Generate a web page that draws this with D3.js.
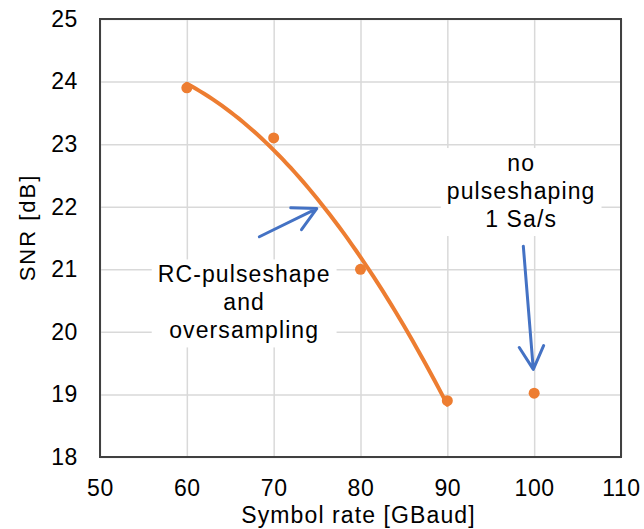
<!DOCTYPE html>
<html>
<head>
<meta charset="utf-8">
<script src="https://cdn.jsdelivr.net/npm/d3@7"></script>
<style>
  body { margin: 0; background: #fff; }
  svg text { font-family: Arial, "Liberation Sans", sans-serif; fill: #000; }
</style>
</head>
<body>
<div class="container"></div>
<script>
// RC-pulseshape + oversampling measurements
const rcRate = [60, 70, 80, 90]
const rcSnr = [23.9, 23.1, 21.0, 18.9]
// no pulseshaping, 1 Sa/s
const plainRate = [100]
const plainSnr = [19.02]

const xTicks = [50, 60, 70, 80, 90, 100, 110]
const yTicks = [18, 19, 20, 21, 22, 23, 24, 25]

// annotation text (data units) and arrows
const noteLines = [["RC-pulseshape", "and", "oversampling"], ["no", "pulseshaping", "1 Sa/s"]]
const noteAt = [[66.6, 20.79], [98.5, 22.57]]
const arrowFrom = [[68.35, 21.52], [98.75, 21.37]]
const arrowTo = [[74.96, 21.97], [99.9, 19.40]]

const size = {WIDTH: 644, HEIGHT: 529}
const margin = {left: 100, right: 23, top: 19, bottom: 72}
const orange = "#ED7D31"
const blue = "#4472C4"

const x = d3.scaleLinear().domain([50, 110]).range([margin.left, size.WIDTH - margin.right])
const y = d3.scaleLinear().domain([18, 25]).range([size.HEIGHT - margin.bottom, margin.top])

const svg = d3.select(".container")
              .append("svg")
              .attr("width", size.WIDTH)
              .attr("height", size.HEIGHT)

svg.append("rect")
   .attr("width", size.WIDTH)
   .attr("height", size.HEIGHT)
   .attr("fill", "white")

const bottom = size.HEIGHT - margin.bottom
const plotW = size.WIDTH - margin.right - margin.left
const plotH = bottom - margin.top

// gridlines
const gridX = svg.append("g")
   .attr("transform", `translate(0 ${bottom})`)
   .call(d3.axisBottom(x).tickValues(xTicks).tickSize(-plotH).tickFormat(""))
const gridY = svg.append("g")
   .attr("transform", `translate(${margin.left} 0)`)
   .call(d3.axisLeft(y).tickValues(yTicks).tickSize(-plotW).tickFormat(""))
for (const g of [gridX, gridY]) {
    g.select(".domain").remove()
    g.selectAll("line").attr("stroke", "#d9d9d9").attr("stroke-width", 1.5)
}

// tick labels
const axX = svg.append("g")
   .attr("transform", `translate(0 ${bottom})`)
   .call(d3.axisBottom(x).tickValues(xTicks).tickSize(0).tickPadding(23).tickFormat(d3.format("d")))
const axY = svg.append("g")
   .attr("transform", `translate(${margin.left} 0)`)
   .call(d3.axisLeft(y).tickValues(yTicks).tickSize(0).tickPadding(22).tickFormat(d3.format("d")))
for (const g of [axX, axY]) {
    g.select(".domain").remove()
    g.selectAll("text")
     .attr("font-size", "23px")
     .attr("letter-spacing", "0.6px")
     .attr("font-family", null)
     .attr("fill", "#000")
}

// annotation boxes + text (drawn before data so the curve goes over)
const fontAnn = 23
noteLines.forEach((lines, i) => {
    const g = svg.append("g")
    const bg = g.append("rect").attr("fill", "white")
    const t = g.append("text")
               .attr("text-anchor", "middle")
               .attr("font-size", fontAnn + "px")
               .attr("letter-spacing", "1.1px")
    t.selectAll("tspan")
     .data(lines)
     .join("tspan")
     .attr("x", x(noteAt[i][0]))
     .attr("y", (d, k) => y(noteAt[i][1]) + k * 28)
     .text((d) => d)
    const b = t.node().getBBox()
    bg.attr("x", b.x - 6).attr("y", b.y - 2)
      .attr("width", b.width + 12).attr("height", b.height + 6)
})

// plot frame
svg.append("rect")
   .attr("x", margin.left)
   .attr("y", margin.top)
   .attr("width", plotW)
   .attr("height", plotH)
   .attr("fill", "none")
   .attr("stroke", "#404040")
   .attr("stroke-width", 2)

// polynomial (2nd order) least squares trendline of the RC points, like the spreadsheet trendline
const fit2 = (xs, ys) => {
    const n = xs.length
    const s = [0, 0, 0, 0, 0]
    const t = [0, 0, 0]
    for (let i = 0; i < n; i++) {
        for (let p = 0; p < 5; p++) s[p] += Math.pow(xs[i], p)
        for (let p = 0; p < 3; p++) t[p] += ys[i] * Math.pow(xs[i], p)
    }
    const A = [[s[0], s[1], s[2], t[0]], [s[1], s[2], s[3], t[1]], [s[2], s[3], s[4], t[2]]]
    for (let c = 0; c < 3; c++) {
        for (let r = c + 1; r < 3; r++) {
            const f = A[r][c] / A[c][c]
            for (let k = c; k < 4; k++) A[r][k] -= f * A[c][k]
        }
    }
    const co = [0, 0, 0]
    for (let r = 2; r >= 0; r--) {
        let v = A[r][3]
        for (let k = r + 1; k < 3; k++) v -= A[r][k] * co[k]
        co[r] = v / A[r][r]
    }
    return (v) => co[0] + co[1] * v + co[2] * v * v
}
const trend = fit2(rcRate, rcSnr)
const lo = d3.min(rcRate), hi = d3.max(rcRate)
const trendPts = d3.range(0, 61).map((k) => lo + (hi - lo) * k / 60)

svg.append("path")
   .attr("d", d3.line().x((d) => x(d)).y((d) => y(trend(d)))(trendPts))
   .attr("fill", "none")
   .attr("stroke", orange)
   .attr("stroke-width", 4)
   .attr("stroke-linecap", "round")

const pts = rcRate.map((d, i) => ({r: d, s: rcSnr[i]}))
                  .concat(plainRate.map((d, i) => ({r: d, s: plainSnr[i]})))
svg.selectAll(".pt")
   .data(pts)
   .join("circle")
   .attr("class", "pt")
   .attr("cx", (d) => x(d.r))
   .attr("cy", (d) => y(d.s))
   .attr("r", 5.5)
   .attr("fill", orange)

// arrows
const headLen = 26
const headAng = 28 * Math.PI / 180
arrowFrom.forEach((f, i) => {
    const x0 = x(f[0]), y0 = y(f[1])
    const x1 = x(arrowTo[i][0]), y1 = y(arrowTo[i][1])
    const back = Math.atan2(y0 - y1, x0 - x1)
    const h1 = [x1 + headLen * Math.cos(back + headAng), y1 + headLen * Math.sin(back + headAng)]
    const h2 = [x1 + headLen * Math.cos(back - headAng), y1 + headLen * Math.sin(back - headAng)]
    svg.append("path")
       .attr("d", `M${x0},${y0}L${x1},${y1}M${h1[0]},${h1[1]}L${x1},${y1}L${h2[0]},${h2[1]}`)
       .attr("fill", "none")
       .attr("stroke", blue)
       .attr("stroke-width", 3)
       .attr("stroke-linecap", "round")
       .attr("stroke-linejoin", "round")
})

// axis titles
svg.append("text")
   .text("Symbol rate [GBaud]")
   .attr("x", (margin.left + size.WIDTH - margin.right) / 2 - 2)
   .attr("y", 523)
   .attr("text-anchor", "middle")
   .attr("font-size", "23px")
   .attr("letter-spacing", "1.1px")

svg.append("text")
   .text("SNR [dB]")
   .attr("transform", "translate(35 227.5) rotate(-90)")
   .attr("text-anchor", "middle")
   .attr("font-size", "22px")
   .attr("letter-spacing", "2px")
</script>
</body>
</html>
